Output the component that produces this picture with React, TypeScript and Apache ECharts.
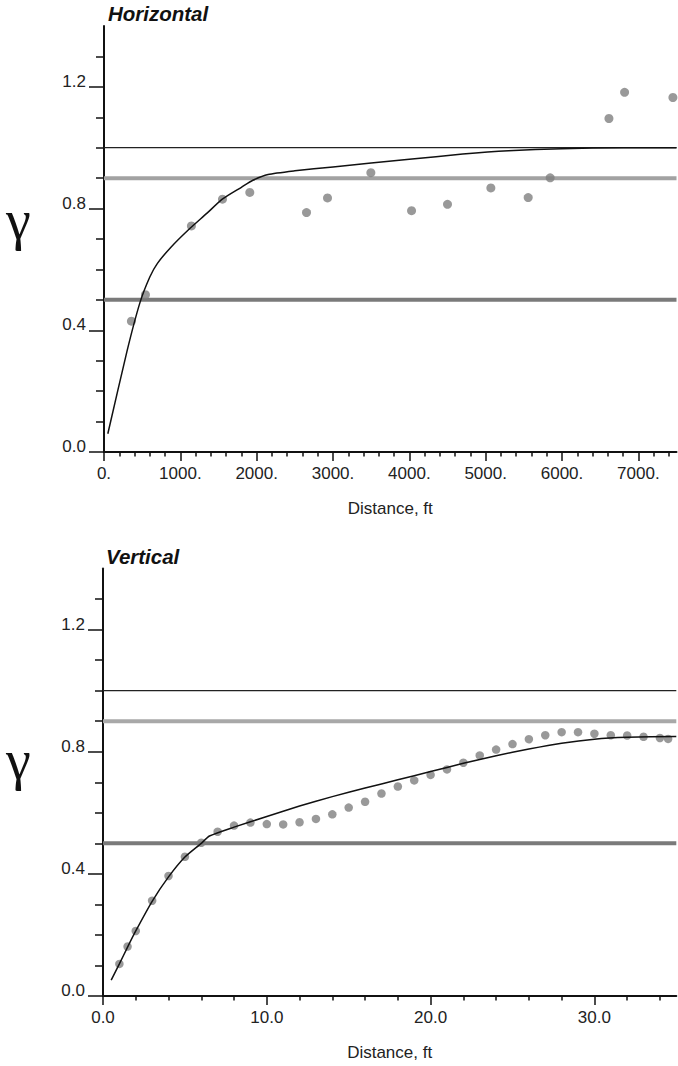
import React, { useEffect, useRef } from 'react';
import * as echarts from 'echarts';

// ---------- Horizontal variogram ----------
const hObsX = [359, 543, 1145, 1552, 1910, 2653, 2928, 3496, 4029, 4500, 5068, 5557, 5845, 6615, 6820, 7453];
const hObsY = [0.43, 0.517, 0.743, 0.831, 0.853, 0.787, 0.835, 0.918, 0.793, 0.814, 0.868, 0.836, 0.901, 1.096, 1.182, 1.165];
const hModelX = [50, 300, 470, 600, 700, 880, 1100, 1350, 1550, 1800, 1950, 2150, 2500, 3000, 4000, 4700, 5300, 6000, 6800, 7500];
const hModelY = [0.06, 0.33, 0.49, 0.575, 0.62, 0.674, 0.729, 0.785, 0.831, 0.87, 0.893, 0.912, 0.924, 0.937, 0.962, 0.979, 0.99, 0.997, 1.0, 1.0];
const hMajorX = [0, 1000, 2000, 3000, 4000, 5000, 6000, 7000];
const hXMax = 7500;

// ---------- Vertical variogram ----------
const vObsX = [1, 1.5, 2, 3, 4, 5, 6, 7, 8, 9, 10, 11, 12, 13, 14, 15, 16, 17, 18, 19, 20, 21, 22, 23, 24, 25, 26, 27, 28, 29, 30, 31, 32, 33, 34, 34.5];
const vObsY = [0.105, 0.162, 0.213, 0.312, 0.393, 0.456, 0.502, 0.538, 0.558, 0.568, 0.563, 0.562, 0.569, 0.58, 0.595, 0.617, 0.636, 0.663, 0.686, 0.706, 0.724, 0.742, 0.764, 0.788, 0.807, 0.825, 0.841, 0.854, 0.864, 0.864, 0.859, 0.854, 0.853, 0.849, 0.845, 0.842];
const vModelX = [0.5, 1, 1.5, 2, 3, 4, 5, 6, 6.5, 8, 10, 12, 14, 16, 18, 20, 22, 24, 26, 28, 30, 32, 35];
const vModelY = [0.052, 0.105, 0.16, 0.213, 0.31, 0.39, 0.455, 0.5, 0.524, 0.553, 0.588, 0.622, 0.653, 0.681, 0.708, 0.735, 0.762, 0.787, 0.809, 0.828, 0.841, 0.847, 0.85];
const vMajorX = [0, 10, 20, 30];
const vXMax = 35;

// ---------- shared y ----------
const yMajor = [0, 0.4, 0.8, 1.2];
const yMinor = [0.1, 0.2, 0.3, 0.5, 0.6, 0.7, 0.9, 1.0, 1.1, 1.3];
const yMax = 1.4;
const refLevels = [1.0, 0.9, 0.5];
const refColorsTop = ['#222222', '#a2a2a2', '#7a7a7a'];
const refColorsBottom = ['#222222', '#a8a8a8', '#7a7a7a'];
const refWidths = [1.3, 4, 4];

const FONT = '"Liberation Sans", Arial, Helvetica, sans-serif';

function minorBetween(majors: number[], step: number, max: number) {
  const out: number[] = [];
  for (let v = step; v < max - 1e-9; v += step) {
    const r = Math.round(v * 1000) / 1000;
    if (!majors.some((m) => Math.abs(m - r) < 1e-9)) out.push(r);
  }
  return out;
}

export default function App() {
  const ref = useRef<HTMLDivElement>(null);
  useEffect(() => {
    if (!ref.current) return;
    const chart = echarts.init(ref.current, undefined, { renderer: 'svg' });
    const axisColor = '#111';
    const labelStyle = { fontSize: 17, color: '#222', fontFamily: FONT };

    const hMinorX = minorBetween(hMajorX, 200, hXMax);
    const vMinorX = minorBetween(vMajorX, 2, vXMax);

    const makeX = (grid: number, max: number, majors: number[], minors: number[], fmt: (v: number) => string) => [
      {
        type: 'value', gridIndex: grid, min: 0, max, position: 'bottom',
        axisLine: { show: true, onZero: false, lineStyle: { color: axisColor, width: 2 } },
        axisTick: { show: true, customValues: majors, length: 9, lineStyle: { color: axisColor, width: 1.5 } },
        axisLabel: { show: true, customValues: majors, formatter: fmt, margin: 13, ...labelStyle },
        splitLine: { show: false },
        name: 'Distance, ft', nameLocation: 'middle', nameGap: 48,
        nameTextStyle: { fontSize: 17, color: '#222', fontFamily: FONT },
      },
      {
        type: 'value', gridIndex: grid, min: 0, max, position: 'bottom',
        axisLine: { show: false, onZero: false },
        axisTick: { show: true, customValues: minors, length: 4.5, lineStyle: { color: axisColor, width: 1.5 } },
        axisLabel: { show: false },
        splitLine: { show: false },
      },
    ];
    const makeY = (grid: number) => [
      {
        type: 'value', gridIndex: grid, min: 0, max: yMax, position: 'left',
        axisLine: { show: true, onZero: false, lineStyle: { color: axisColor, width: 2 } },
        axisTick: { show: true, customValues: yMajor, length: 15, lineStyle: { color: axisColor, width: 1.5 } },
        axisLabel: {
          show: true, customValues: yMajor, formatter: (v: number) => v.toFixed(1), margin: 18,
          verticalAlign: 'bottom', lineHeight: 11, ...labelStyle,
        },
        splitLine: { show: false },
      },
      {
        type: 'value', gridIndex: grid, min: 0, max: yMax, position: 'left',
        axisLine: { show: false, onZero: false },
        axisTick: { show: true, customValues: yMinor, length: 8, lineStyle: { color: axisColor, width: 1.5 } },
        axisLabel: { show: false },
        splitLine: { show: false },
      },
    ];

    const refSeries = (xi: number, yi: number, max: number, colors: string[]) =>
      refLevels.map((lvl, i) => ({
        type: 'line', xAxisIndex: xi, yAxisIndex: yi, z: 2, silent: true,
        showSymbol: false, symbol: 'none',
        data: [[0, lvl], [max, lvl]],
        lineStyle: { color: colors[i], width: refWidths[i] },
      }));

    const option: any = {
      animation: false,
      backgroundColor: '#ffffff',
      grid: [
        { left: 104, top: 26, width: 572.5, height: 426 },
        { left: 103, top: 568.5, width: 573.3, height: 427.5 },
      ],
      xAxis: [
        ...makeX(0, hXMax, hMajorX, hMinorX, (v: number) => `${v}.`),
        ...makeX(1, vXMax, vMajorX, vMinorX, (v: number) => v.toFixed(1)),
      ],
      yAxis: [...makeY(0), ...makeY(1)],
      series: [
        ...refSeries(0, 0, hXMax, refColorsTop),
        {
          type: 'scatter', xAxisIndex: 0, yAxisIndex: 0, z: 3, symbolSize: 9,
          itemStyle: { color: '#808080' },
          data: hObsX.map((x, i) => [x, hObsY[i]]),
        },
        {
          type: 'line', xAxisIndex: 0, yAxisIndex: 0, z: 4, showSymbol: false, symbol: 'none',
          smooth: 0.2,
          lineStyle: { color: '#111', width: 1.5 },
          data: hModelX.map((x, i) => [x, hModelY[i]]),
        },
        ...refSeries(2, 2, vXMax, refColorsBottom),
        {
          type: 'scatter', xAxisIndex: 2, yAxisIndex: 2, z: 3, symbolSize: 8.5,
          itemStyle: { color: '#808080' },
          data: vObsX.map((x, i) => [x, vObsY[i]]),
        },
        {
          type: 'line', xAxisIndex: 2, yAxisIndex: 2, z: 4, showSymbol: false, symbol: 'none',
          smooth: 0.2,
          lineStyle: { color: '#111', width: 1.5 },
          data: vModelX.map((x, i) => [x, vModelY[i]]),
        },
      ],
      graphic: [
        {
          type: 'text', left: 108, top: 3,
          style: { text: 'Horizontal', font: `italic bold 20.5px ${FONT}`, fill: '#111' },
        },
        {
          type: 'text', left: 106, top: 546,
          style: { text: 'Vertical', font: `italic bold 20.5px ${FONT}`, fill: '#111' },
        },
        {
          type: 'text', left: 6, top: 192,
          style: { text: 'γ', font: `56px "Liberation Serif", "Times New Roman", serif`, fill: '#111' },
        },
        {
          type: 'text', left: 6, top: 732,
          style: { text: 'γ', font: `56px "Liberation Serif", "Times New Roman", serif`, fill: '#111' },
        },
      ],
    };
    chart.setOption(option);
    return () => chart.dispose();
  }, []);
  return (
    <div
      ref={ref}
      style={{ position: 'fixed', left: 0, top: 0, width: 678, height: 1066, background: '#fff' }}
    />
  );
}
